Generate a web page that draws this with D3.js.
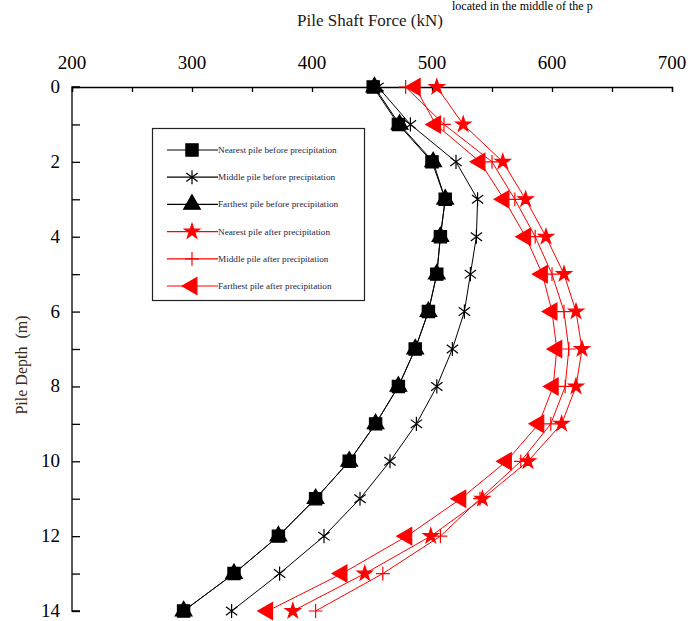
<!DOCTYPE html>
<html>
<head>
<meta charset="utf-8">
<script src="https://cdn.jsdelivr.net/npm/d3@7"></script>
<style>
  body { margin: 0; background: #fff; }
  svg { display: block; font-family: "Liberation Serif", "Times New Roman", serif; }
</style>
</head>
<body>
<svg id="chart" width="688" height="621"></svg>
<script>
// pile depth (m) and shaft force (kN)
var depths = [0, 1, 2, 3, 4, 5, 6, 7, 8, 9, 10, 11, 12, 13, 14];
var nearestBefore  = [451, 472, 500, 511, 507, 504, 497, 486, 472, 453, 431, 403, 372, 335, 293];
var middleBefore   = [455, 482, 520, 538, 537, 532, 527, 517, 504, 487, 465, 440, 410, 373, 333];
var farthestBefore = [452, 473, 501, 511, 507, 504, 497, 486, 472, 453, 431, 403, 372, 335, 293];
var nearestAfter   = [504, 526, 559, 578, 595, 610, 620, 625, 620, 608, 580, 542, 499, 444, 384];
var middleAfter    = [478, 510, 550, 569, 586, 600, 610, 614, 611, 599, 574, 540, 507, 459, 403];
var farthestAfter  = [486, 503, 540, 560, 578, 592, 600, 604, 601, 589, 562, 524, 479, 425, 363];

var xTicks = [200, 300, 400, 500, 600, 700];
var yTicks = [0, 2, 4, 6, 8, 10, 12, 14];

var svg = d3.select("#chart");

var x = d3.scaleLinear().domain([200, 700]).range([72, 672]);
var y = d3.scaleLinear().domain([0, 14]).range([87, 611]);

// custom stroke symbols
var asterisk = {
  draw: function(ctx, size) {
    var r = Math.sqrt(size) / 2;
    ctx.moveTo(0, -r); ctx.lineTo(0, r);
    var a = r * 0.8, b = r * 0.6;
    ctx.moveTo(-a, -b); ctx.lineTo(a, b);
    ctx.moveTo(-a, b); ctx.lineTo(a, -b);
  }
};
var plus = {
  draw: function(ctx, size) {
    var r = Math.sqrt(size) / 2;
    ctx.moveTo(0, -r); ctx.lineTo(0, r);
    ctx.moveTo(-r, 0); ctx.lineTo(r, 0);
  }
};

var series = [
  {name: "Nearest pile before precipitation", values: nearestBefore, color: "#000", sym: d3.symbolSquare, size: 150, fill: true, rot: 0},
  {name: "Middle pile before precipitation", values: middleBefore, color: "#000", sym: asterisk, size: 200, fill: false, rot: 0},
  {name: "Farthest pile before precipitation", values: farthestBefore, color: "#000", sym: d3.symbolTriangle, size: 120, fill: true, rot: 0},
  {name: "Nearest pile after precipitation", values: nearestAfter, color: "#ff0000", sym: d3.symbolStar, size: 70, fill: true, rot: 0},
  {name: "Middle pile after precipitation", values: middleAfter, color: "#ff0000", sym: plus, size: 190, fill: false, rot: 0},
  {name: "Farthest pile after precipitation", values: farthestAfter, color: "#ff0000", sym: d3.symbolTriangle, size: 125, fill: true, rot: -90}
];

// line of page text above the figure
svg.append("text")
  .attr("x", 452).attr("y", 10)
  .attr("font-size", 12).attr("fill", "#000")
  .text("located in the middle of the p");

// axes
var xAxis = d3.axisBottom(x).tickValues(d3.range(200, 701, 50)).tickSize(5).tickFormat("");
svg.append("g").attr("transform", "translate(0," + y(0) + ")").call(xAxis)
  .call(function(g) { g.selectAll("path,line").attr("stroke", "#000").attr("stroke-width", 1.3); });

var yAxis = d3.axisRight(y).tickValues(d3.range(0, 15, 1)).tickSize(8).tickFormat("");
svg.append("g").attr("transform", "translate(" + x(200) + ",0)").call(yAxis)
  .call(function(g) {
    g.select(".domain").attr("d", "M8," + y(0) + "H0V" + y(14) + "H8");
    g.selectAll("path,line").attr("stroke", "#000").attr("stroke-width", 1.3);
  });

svg.selectAll(".xlab").data(xTicks).enter().append("text")
  .attr("x", function(d) { return x(d); }).attr("y", 69)
  .attr("text-anchor", "middle").attr("font-size", 19).attr("fill", "#000")
  .text(function(d) { return d; });

svg.selectAll(".ylab").data(yTicks).enter().append("text")
  .attr("x", 60).attr("y", function(d) { return y(d) + 6; })
  .attr("text-anchor", "end").attr("font-size", 19).attr("fill", "#000")
  .text(function(d) { return d; });

svg.append("text")
  .attr("x", 370).attr("y", 26)
  .attr("text-anchor", "middle").attr("font-size", 17).attr("fill", "#1a1a1a")
  .text("Pile Shaft Force (kN)");

svg.append("text")
  .attr("transform", "translate(27,365) rotate(-90)")
  .attr("text-anchor", "middle").attr("font-size", 16).attr("fill", "#3b2a14")
  .text("Pile Depth\u00a0\u00a0(m)");

// lines and markers
var line = d3.line()
  .x(function(d) { return x(d[0]); })
  .y(function(d) { return y(d[1]); });

series.forEach(function(s) {
  var pts = s.values.map(function(v, i) { return [v, depths[i]]; });
  svg.append("path").datum(pts)
    .attr("d", line).attr("fill", "none")
    .attr("stroke", s.color).attr("stroke-width", 1);
});

series.forEach(function(s) {
  var pts = s.values.map(function(v, i) { return [v, depths[i]]; });
  svg.append("g").selectAll("path").data(pts).enter().append("path")
    .attr("transform", function(d) { return "translate(" + x(d[0]) + "," + y(d[1]) + ") rotate(" + s.rot + ")"; })
    .attr("d", d3.symbol().type(s.sym).size(s.size))
    .attr("fill", s.fill ? s.color : "none")
    .attr("stroke", s.color).attr("stroke-width", 1.2);
});

// legend
var lg = svg.append("g");
lg.append("rect")
  .attr("x", 152.5).attr("y", 128.5).attr("width", 212).attr("height", 172)
  .attr("fill", "#fff").attr("stroke", "#222").attr("stroke-width", 1.2);

series.forEach(function(s, i) {
  var ly = 150 + i * 27.2;
  lg.append("line").attr("x1", 167).attr("x2", 218).attr("y1", ly).attr("y2", ly)
    .attr("stroke", s.color).attr("stroke-width", 1.2);
  lg.append("path")
    .attr("transform", "translate(192," + ly + ") rotate(" + s.rot + ")")
    .attr("d", d3.symbol().type(s.sym).size(s.size))
    .attr("fill", s.fill ? s.color : "none")
    .attr("stroke", s.color).attr("stroke-width", 1.2);
  lg.append("text").attr("x", 218).attr("y", ly + 3)
    .attr("font-size", 9.2).attr("fill", "#1c1c44")
    .text(s.name);
});
</script>
</body>
</html>
